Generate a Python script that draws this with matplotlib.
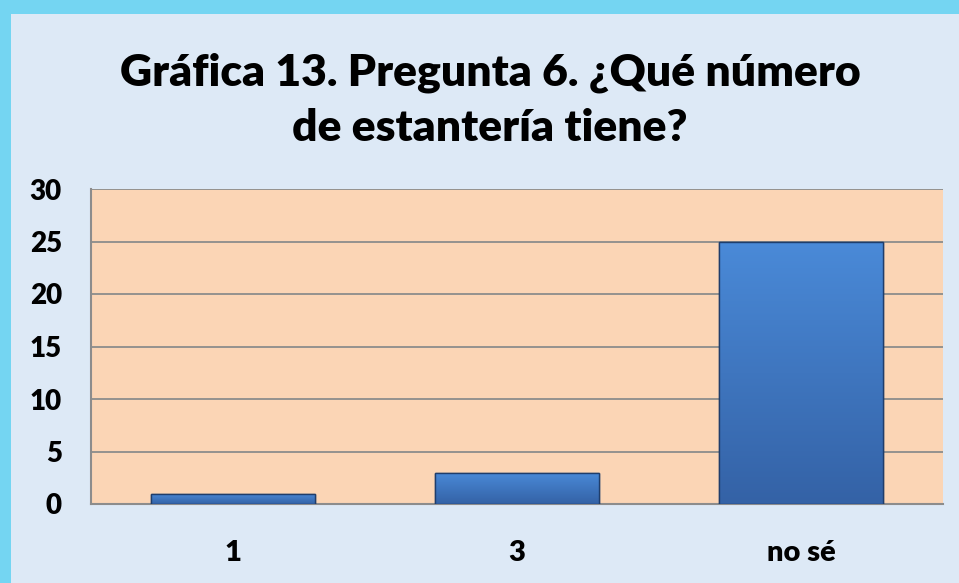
"""Gráfica 13 - Pregunta 6, número de estantería (bar chart)."""

import matplotlib

matplotlib.use("Agg")
import matplotlib.pyplot as plt  # noqa: E402
import numpy as np  # noqa: E402
from matplotlib.patches import Rectangle  # noqa: E402

CATEGORIES = ["1", "3", "no sé"]
COUNTS = [1, 3, 25]
Y_TICKS = [0, 5, 10, 15, 20, 25, 30]
TITLE = "Gráfica 13. Pregunta 6. ¿Qué número\nde estantería tiene?"

FONT = ["Lato", "DejaVu Sans"]
BG = "#dde9f6"
PLOT_BG = "#fbd5b5"
GRID = "#8c8c8c"
BORDER = "#74d5f2"

fig = plt.figure(figsize=(9.59, 5.83), dpi=100)
fig.patch.set_facecolor(BG)

# cyan frame along the top and left edges
fig.patches.append(Rectangle((0, 1 - 14 / 583), 1, 14 / 583, transform=fig.transFigure,
                             facecolor=BORDER, edgecolor="none", zorder=0))
fig.patches.append(Rectangle((0, 0), 11 / 959, 1, transform=fig.transFigure,
                             facecolor=BORDER, edgecolor="none", zorder=0))

ax = fig.add_axes([91 / 959, 79 / 583, 852 / 959, 315 / 583])
ax.set_facecolor(PLOT_BG)

x = np.arange(len(CATEGORIES))
bars = ax.bar(x, COUNTS, width=0.578, color="#3d78c6", edgecolor="#1f3d6b",
              linewidth=1.0, zorder=3)

# vertical gradient inside each bar
grad = np.linspace(0, 1, 256).reshape(-1, 1)
cmap = matplotlib.colors.LinearSegmentedColormap.from_list("bar", ["#3462a6", "#4a8ad8"])
for b in bars:
    x0, y0 = b.get_x(), b.get_y()
    w, h = b.get_width(), b.get_height()
    im = ax.imshow(grad, extent=(x0, x0 + w, y0, y0 + h), origin="lower",
                   cmap=cmap, aspect="auto", zorder=3.5)
    im.set_clip_path(b)
    ax.add_patch(Rectangle((x0, y0), w, h, facecolor="none", edgecolor="#1f3d6b",
                           linewidth=1.0, zorder=4))

ax.set_xlim(-0.5, len(CATEGORIES) - 0.5)
ax.set_ylim(0, 30)
ax.set_yticks(Y_TICKS)
ax.set_xticks(x)
ax.set_xticklabels(CATEGORIES)
ax.yaxis.grid(True, color=GRID, linewidth=1.3, zorder=1)
ax.set_axisbelow(True)
ax.tick_params(length=0)
ax.tick_params(axis="x", pad=26, labelsize=21)
ax.tick_params(axis="y", pad=21, labelsize=20)
for lbl in ax.get_xticklabels() + ax.get_yticklabels():
    lbl.set_fontweight("heavy")
    lbl.set_family(FONT)
for side in ("left", "bottom", "top", "right"):
    ax.spines[side].set_color(GRID)
    ax.spines[side].set_linewidth(1.5)
ax.spines["top"].set_visible(False)
ax.spines["right"].set_visible(False)

fig.text(0.511, 0.8285, TITLE, ha="center", va="center", fontsize=32,
         fontweight="heavy", family=FONT, linespacing=1.45)

fig.savefig("out.png", dpi=100, facecolor=fig.get_facecolor())
